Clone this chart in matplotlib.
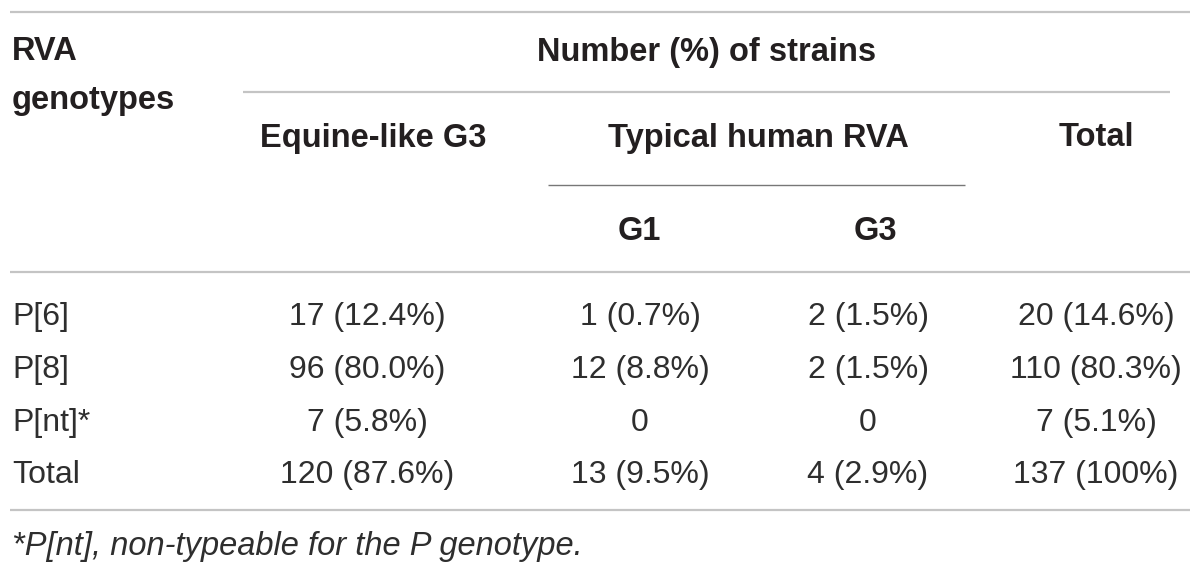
import matplotlib
matplotlib.use('Agg')
import matplotlib.pyplot as plt

# datos de la tabla
genotipos = ['P[6]', 'P[8]', 'P[nt]*', 'Total']
equine_g3 = ['17 (12.4%)', '96 (80.0%)', '7 (5.8%)', '120 (87.6%)']
human_g1 = ['1 (0.7%)', '12 (8.8%)', '0', '13 (9.5%)']
human_g3 = ['2 (1.5%)', '2 (1.5%)', '0', '4 (2.9%)']
total = ['20 (14.6%)', '110 (80.3%)', '7 (5.1%)', '137 (100%)']
nota = '*P[nt], non-typeable for the P genotype.'

plt.rcParams['font.family'] = ['Liberation Sans', 'DejaVu Sans']

fig = plt.figure(figsize=(12, 5.78), dpi=100)
ax = fig.add_axes([0, 0, 1, 1])
ax.set_xlim(0, 1200)
ax.set_ylim(578, 0)
ax.axis('off')

claro = '#c4c4c4'
oscuro = '#777777'
txt = '#231f20'
txt_fino = '#2e2e2e'
fs = 23
fsb = 23.5

# lineas horizontales
ax.hlines(12, 10, 1190, color=claro, lw=1.6)
ax.hlines(92, 243, 1170, color=claro, lw=1.6)
ax.hlines(185, 548, 965, color=oscuro, lw=1.0)
ax.hlines(272, 10, 1190, color=claro, lw=1.6)
ax.hlines(510, 10, 1190, color=claro, lw=1.6)

# encabezados
ax.text(12, 52, 'RVA', fontsize=fsb, fontweight='bold', color=txt, va='center')
ax.text(12, 100, 'genotypes', fontsize=fsb, fontweight='bold', color=txt, va='center')
ax.text(707, 52, 'Number (%) of strains', fontsize=fsb, fontweight='bold', color=txt,
        ha='center', va='center')
ax.text(373, 138, 'Equine-like G3', fontsize=fsb, fontweight='bold', color=txt,
        ha='center', va='center')
ax.text(758, 138, 'Typical human RVA', fontsize=fsb, fontweight='bold', color=txt,
        ha='center', va='center')
ax.text(1096, 138, 'Total', fontsize=fsb, fontweight='bold', color=txt,
        ha='center', va='center')
ax.text(639, 232, 'G1', fontsize=fsb, fontweight='bold', color=txt, ha='center', va='center')
ax.text(875, 232, 'G3', fontsize=fsb, fontweight='bold', color=txt, ha='center', va='center')

# filas
filas_y = [317, 370, 423, 475]
columnas = [(367, equine_g3), (640, human_g1), (868, human_g3), (1096, total)]
for i, y in enumerate(filas_y):
    ax.text(12, y, genotipos[i], fontsize=fs, color=txt_fino, va='center')
    for x, valores in columnas:
        ax.text(x, y, valores[i], fontsize=fs, color=txt_fino, ha='center', va='center')

ax.text(12, 547, nota, fontsize=23.5, style='italic', color=txt_fino, va='center')

fig.savefig('out.png', dpi=100)
